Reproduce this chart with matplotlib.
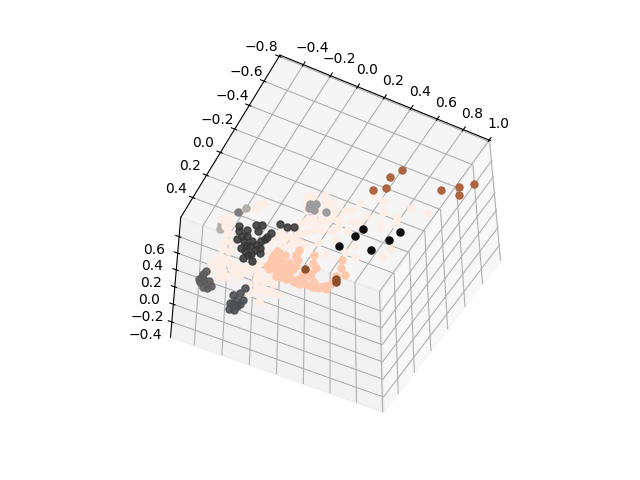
import matplotlib
matplotlib.use("Agg")
import matplotlib.pyplot as plt

pale_x = [-.123,-.087,-.025,.045,-.106,.005,.211,.337,.260,.098,.159,.193,.294,.377,.527,.642,.489,.499,.422,.280,.239,.152,.098,.051,-.006,-.033,-.067,.041,.091,.156,.247,.179,.008,-.027,-.063,-.095,-.144,-.091,-.030,.007,.061,.118,.210,.212,.347,.575,.554,.407,.320,-.383,-.337,-.372,-.505,-.534,-.461,-.487,-.441,-.427,-.414,-.411,-.424,-.361,-.313,-.260,-.280,-.215,-.169,-.148,-.104,-.071,-.038,-.061,-.082,.020,.086,.013,.007,-.125,-.418,-.331,-.145,-.134,
          -.394,-.363,-.401,-.327,-.267,-.219,-.169,-.115,-.094,-.021,-.031,.043,-.380,-.367,-.498,-.064,-.034,-.172,.024,.105,-.050,-.069,.007]
pale_y = [-.383,-.399,-.433,-.400,-.333,-.382,-.472,-.542,-.552,-.350,-.377,-.406,-.407,-.473,-.574,-.581,-.464,-.424,-.361,-.343,-.325,-.300,-.263,-.256,-.246,-.205,-.175,-.164,-.186,-.206,-.246,-.254,-.135,-.105,-.060,-.026,-.024,.025,-.002,-.047,-.042,-.096,-.033,-.152,-.159,-.234,-.165,-.077,-.097,-.196,-.225,-.157,-.026,.002,-.001,.039,.077,.144,.211,.284,.347,.349,.298,.305,.400,.358,.308,.212,.309,.236,.337,.407,.460,.327,.386,.403,.494,.406,.403,.423,.108,-.072,
          .334,.277,.367,.363,.337,.287,.265,.270,.349,.301,.393,.390,.139,.205,-.044,.028,-.053,.017,-.215,-.295,-.124,-.290,-.310]
peach_x = [-.084,-.087,-.065,-.061,-.014,-.010,-.047,-.021,.034,.054,.040,.071,.056,.023,.081,.144,.080,.181,.222,.275,.308,.340,.363,.363,.370,.370,.414,.367,.334,.215,.175,.151,.205,.209,.161,.087,-.078,-.047,.020,.007,
           -.085,-.091,-.044,.003,.081,.043,.111,.151,.188,.249,.265,.325,.057,-.014,.036,.040]
peach_y = [.081,.141,.204,.231,.225,.165,.123,.082,.132,.079,.011,.085,.194,.223,.213,.257,.257,.256,.238,.243,.235,.201,.176,.220,.144,.100,.066,.029,-.030,.096,.069,.006,.143,.171,.177,.137,.181,.167,.196,.260,
           .213,.113,.195,.145,.169,.258,.243,.225,.224,.241,.204,.221,.238,.181,.159,.055]
dark_x = [-.404,-.386,-.343,-.310,-.278,-.278,-.363,-.316,-.316,-.270,-.215,-.197,-.188,-.307,-.262,-.198,-.259,-.223,-.178,-.196,-.276,-.222,-.171,-.122,-.079,-.346,-.286,-.228,-.206,-.243]
dark_y = [.003,.039,.006,-.048,-.067,-.014,.101,.052,.095,.075,.051,.008,-.034,.155,.115,.102,.217,.171,.137,.218,.165,.127,-.123,-.116,-.132,.065,.126,.086,.023,.180]
left_x = [-.429,-.432,-.422,-.386,-.354,-.343,-.404,-.375,-.445,-.435]
left_y = [.414,.467,.507,.534,.536,.511,.485,.477,.488,.440]
low_x = [-.129,-.144,-.095,-.173,-.133,-.163,-.095,-.136,-.140,-.109,-.109]
low_y = [.430,.481,.524,.520,.546,.583,.567,.585,.631,.623,.588]
light_x = [-.076,-.040,-.029,-.066,.046]
light_y = [-.337,-.347,-.308,-.307,-.323]
solo_x = [-.459]
solo_y = [-.092]
faint_x = [-.512,-.504,-.428]
faint_y = [.041,.077,-.141]
brown_far_x = [.372,.438,.421,.465,.779,.876,.904,.949]
brown_far_y = [-.371,-.418,-.502,-.583,-.548,-.617,-.565,-.675]
brown_near_x = [.157,.376,.392]
brown_near_y = [.135,.120,.143]
black_x = [.333,.311,.260,.466,.528,.561]
black_y = [-.306,-.233,-.117,-.175,-.297,-.380]

x_ticks = [-0.4,-0.2,0.0,0.2,0.4,0.6,0.8,1.0]
y_ticks = [-0.8,-0.6,-0.4,-0.2,0.0,0.2,0.4]
z_ticks = [-0.4,-0.2,0.0,0.2,0.4,0.6]
z_main = 0.05
z_far = 0.45

fig = plt.figure(figsize=(6.4, 4.8), dpi=100)
ax = fig.add_subplot(projection='3d')
ax.computed_zorder = False
ax.view_init(elev=-48, azim=-117)

groups = [
    (faint_x, faint_y, z_main, (0.69, 0.67, 0.65, 0.9), 1),
    (pale_x, pale_y, z_main, '#ffeee6', 2),
    (light_x, light_y, z_main, '#9c9c9c', 3),
    (solo_x, solo_y, z_main, '#7c7c7c', 3),
    (peach_x, peach_y, z_main, '#ffc8ad', 4),
    (left_x, left_y, z_main, (0.36, 0.36, 0.36, 0.9), 5),
    (low_x, low_y, z_main, (0.30, 0.31, 0.32, 0.9), 5),
    (dark_x, dark_y, z_main, (0.22, 0.22, 0.22, 0.88), 6),
    (brown_far_x, brown_far_y, z_far, '#ac6540', 7),
    (brown_near_x, brown_near_y, z_main, '#8f4f2c', 7),
    (black_x, black_y, z_main, '#0d0d0d', 8),
]
for xs, ys, z_level, col, order in groups:
    ax.scatter(xs, ys, z_level, c=[col], s=26, depthshade=False, zorder=order)

ax.set_xlim(-0.57, 1.01, view_margin=0)
ax.set_ylim(-0.81, 0.58, view_margin=0)
ax.set_zlim(-0.57, 0.84, view_margin=0)
ax.set_xticks(x_ticks)
ax.set_yticks(y_ticks)
ax.set_zticks(z_ticks)
fig.savefig("out.png", dpi=100)
